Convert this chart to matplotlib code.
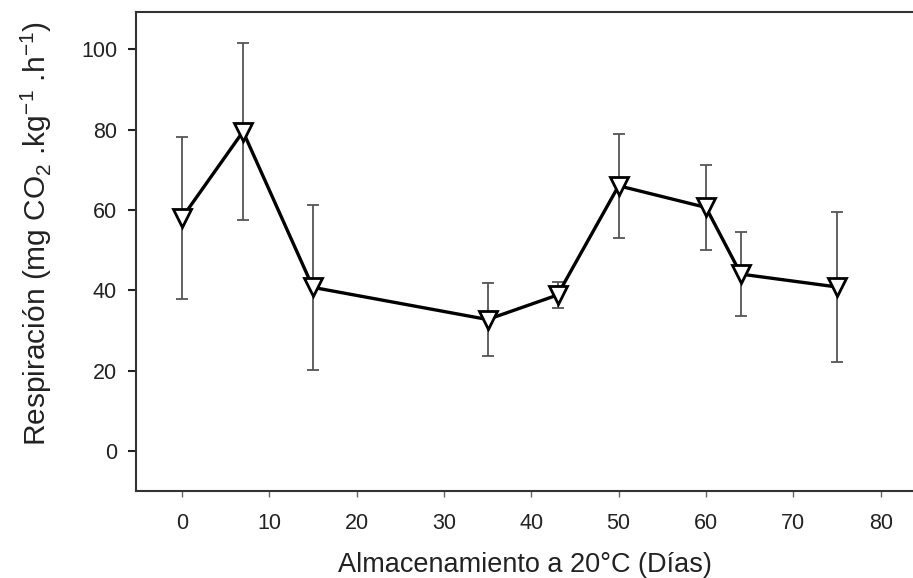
import matplotlib
matplotlib.use("Agg")
import matplotlib.pyplot as plt

days = [0, 7, 15, 35, 43, 50, 60, 64, 75]
resp = [58.0, 79.5, 40.7, 32.7, 38.8, 66.0, 60.6, 44.0, 40.8]
err = [20.2, 22.0, 20.5, 9.0, 3.3, 13.0, 10.6, 10.5, 18.7]
xticks = [0, 10, 20, 30, 40, 50, 60, 70, 80]
yticks = [0, 20, 40, 60, 80, 100]

plt.rcParams['font.family'] = ['Liberation Sans', 'DejaVu Sans']
plt.rcParams['mathtext.fontset'] = 'custom'
plt.rcParams['mathtext.rm'] = 'Liberation Sans'

fig = plt.figure(figsize=(9.13, 5.78), dpi=100)
ax = fig.add_axes([0.1495, 0.1505, 0.8505, 0.829])

ax.errorbar(days, resp, yerr=err, fmt='none', ecolor='#555555', elinewidth=1.3,
            capsize=4, capthick=1.3, zorder=2)
ax.plot(days, resp, color='black', linewidth=2.4, zorder=3)
ax.plot(days, resp, linestyle='none', marker='v', markersize=13,
        markerfacecolor='white', markeredgecolor='black', markeredgewidth=2.0, zorder=4)

ax.set_xlim(-5.2, 83.7)
ax.set_ylim(-10, 109.3)
ax.set_xticks(xticks)
ax.set_yticks(yticks)
ax.tick_params(axis='both', labelsize=15.5, colors='#222222', direction='out')
ax.tick_params(axis='y', length=6, width=1.5, pad=8)
ax.tick_params(axis='x', length=4, width=1.0, color='#666666', pad=12)

for s in ['left', 'bottom', 'top']:
    ax.spines[s].set_color('#333333')
    ax.spines[s].set_linewidth(1.5)
ax.spines['right'].set_visible(False)

ax.set_xlabel('Almacenamiento a 20°C (Días)', fontsize=19.5, color='#222222', labelpad=13)
ax.set_ylabel('Respiración (mg CO$_2$ .kg$^{-1}$ .h$^{-1}$)', fontsize=21.5,
              color='#222222')
ax.yaxis.set_label_coords(-0.106, 0.537)

fig.savefig('out.png', dpi=100, facecolor='white')
